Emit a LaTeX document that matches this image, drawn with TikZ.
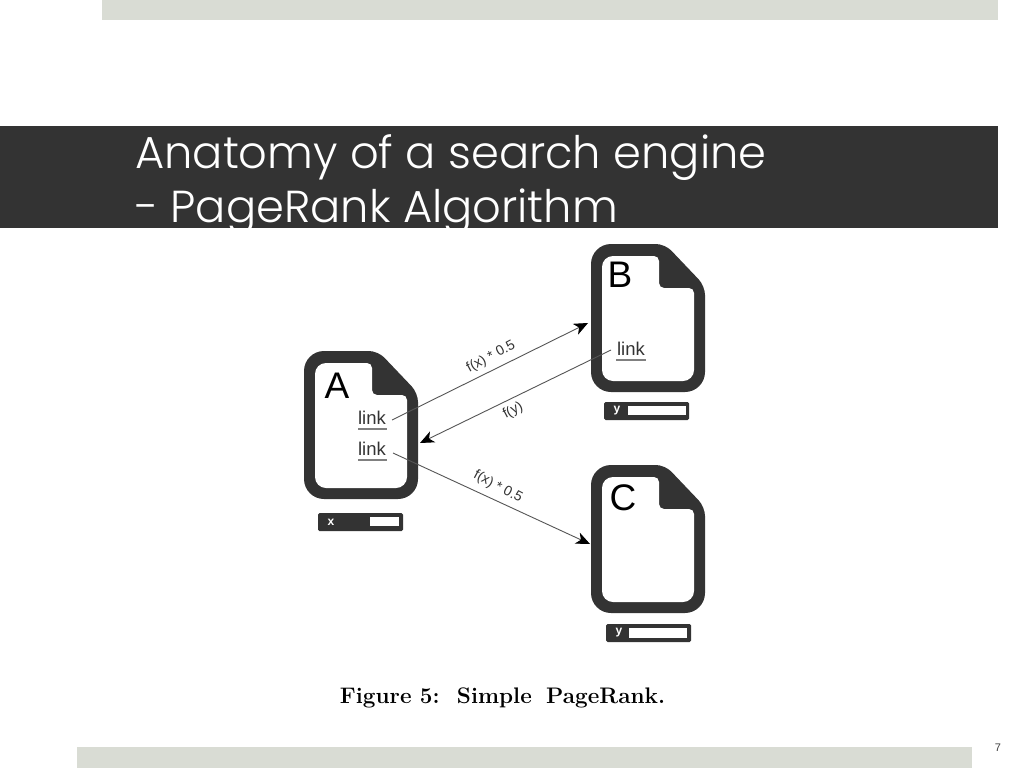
\documentclass[tikz,border=0pt]{standalone}
\usepackage{fontspec}
\newfontfamily\titlefont[UprightFont={* Light}]{Poppins}
\newfontfamily\figfont{Liberation Sans}
\usetikzlibrary{arrows.meta}
\definecolor{barcol}{HTML}{D9DCD4}
\definecolor{bandcol}{HTML}{333333}
\definecolor{inkcol}{HTML}{333333}
\definecolor{linecol}{HTML}{555555}
\tikzset{
  x=1pt,y=-1pt,
  titletext/.style={anchor=base west,inner sep=0pt,text=white,font=\titlefont\fontsize{44.8}{45}\selectfont},
  letter/.style={inner sep=0pt,text=black,font=\figfont\fontsize{37}{37}\selectfont},
  linktext/.style={inner sep=0pt,text=inkcol,font=\figfont\fontsize{18.5}{18.5}\selectfont},
  edgetext/.style={inner sep=0pt,text=inkcol,font=\figfont\fontsize{14}{14}\selectfont},
  tagtext/.style={inner sep=0pt,text=white,font=\figfont\bfseries\fontsize{12}{12}\selectfont},
  conn/.style={draw=linecol,line width=0.9pt,-{Stealth[length=14pt,width=12pt,inset=4pt,color=black]}},
  underl/.style={draw=gray,line width=1.2pt},
}
\newcommand{\docshape}[2]{%
  \begin{scope}[shift={(#1,#2)}]
    \fill[inkcol,rounded corners=20pt] (0,0) [rounded corners=9pt] -- (74,0) -- (114,42) [rounded corners=20pt] -- (114,148) -- (0,148) -- cycle;
    \fill[white,rounded corners=10pt] (11,12) [rounded corners=5pt] -- (68,12) -- (68,44) -- (103,44) [rounded corners=11pt] -- (103,137) -- (11,137) -- cycle;
  \end{scope}}
\newcommand{\tagbar}[7]{%
  \fill[inkcol,rounded corners=1.5pt] (#1,#2) rectangle ++(85,18);
  \fill[white] (#3,#4) rectangle (#5,#6);
  \node[tagtext] (#7) at (#1+13,#2+9) {#7};}
\begin{document}
\begin{tikzpicture}
\useasboundingbox (0,0) rectangle (1024,768);
\fill[white] (0,0) rectangle (1024,768);
\fill[barcol] (102,0) rectangle (998,20);
\fill[barcol] (77,747) rectangle (972,768);
\fill[bandcol] (0,126) rectangle (998,228);
\node[titletext] (t1) at (135,168) {Anatomy of a search engine};
\node[titletext] (t2) at (135,222) {- PageRank Algorithm};

\docshape{304}{351}
\docshape{591}{244}
\docshape{591}{465}
\node[letter] (A) at (337,386) {A};
\node[letter] (B) at (620,275) {B};
\node[letter] (C) at (623,498) {C};

\node[linktext] (l1) at (372,418) {link};
\node[linktext] (l2) at (372,449) {link};
\node[linktext] (l3) at (631,349) {link};
\draw[underl] (358,429) -- (387,429);
\draw[underl] (358,460) -- (387,460);
\draw[underl] (616,360) -- (646,360);

\tagbar{318}{513}{370}{517}{399}{526}{x}
\tagbar{604}{402}{628}{406}{686}{415}{y}
\tagbar{606}{624}{629}{628}{687}{638}{y}

\coordinate (aout1) at (392,420);
\coordinate (aout2) at (393,453);
\coordinate (ain) at (420,443);
\coordinate (bin) at (588,323);
\coordinate (bout) at (611,350);
\coordinate (cin) at (590,544);
\draw[conn] (aout1) -- (bin);
\draw[conn] (bout) -- (ain);
\draw[conn] (aout2) -- (cin);
\node[edgetext,rotate=28] (e1) at (491,357) {f(x) * 0.5};
\node[edgetext,rotate=28] (e2) at (513,411) {f(y)};
\node[edgetext,rotate=-28] (e3) at (498,487) {f(x) * 0.5};

\node[anchor=base,inner sep=0pt,text=black,font=\bfseries\fontsize{22.5}{22.5}\selectfont\addfontfeature{LetterSpace=6}] (cap) at (502.5,703) {Figure 5:\hspace{6pt} Simple\hspace{6pt} PageRank.};
\node[inner sep=0pt,text=darkgray,font=\figfont\fontsize{11}{11}\selectfont] (pg) at (998,747.5) {7};
\end{tikzpicture}
\end{document}
